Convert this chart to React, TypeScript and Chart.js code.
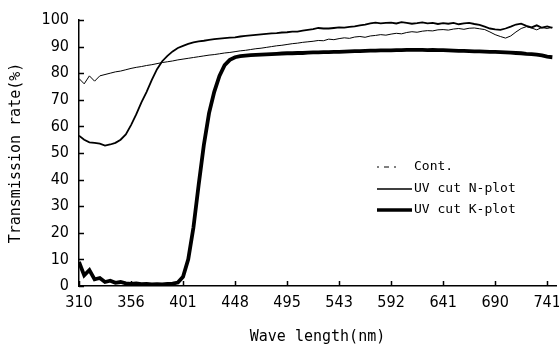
import React, { useEffect, useRef } from "react";
import { Chart, registerables } from "chart.js";

Chart.register(...registerables);

// Tick labels for the wavelength axis (evenly spaced positions 0..9)
const waveTickLabels = ["310", "356", "401", "448", "495", "543", "592", "641", "690", "741"];

// Sample positions along the wavelength axis (in tick-index units)
const samplePositions = [
  0, 0.1, 0.2, 0.3, 0.4, 0.5, 0.6, 0.7, 0.8, 0.9,
  1, 1.1, 1.2, 1.3, 1.4, 1.5, 1.6, 1.7, 1.8, 1.9,
  2, 2.1, 2.2, 2.3, 2.4, 2.5, 2.6, 2.7, 2.8, 2.9,
  3, 3.1, 3.2, 3.3, 3.4, 3.5, 3.6, 3.7, 3.8, 3.9,
  4, 4.1, 4.2, 4.3, 4.4, 4.5, 4.6, 4.7, 4.8, 4.9,
  5, 5.1, 5.2, 5.3, 5.4, 5.5, 5.6, 5.7, 5.8, 5.9,
  6, 6.1, 6.2, 6.3, 6.4, 6.5, 6.6, 6.7, 6.8, 6.9,
  7, 7.1, 7.2, 7.3, 7.4, 7.5, 7.6, 7.7, 7.8, 7.9,
  8, 8.1, 8.2, 8.3, 8.4, 8.5, 8.6, 8.7, 8.8, 8.9,
  9, 9.1,
];

const contValues = [
  78, 76, 79, 77, 79, 79.5, 80, 80.5, 80.8, 81.3,
  81.8, 82.2, 82.5, 82.9, 83.2, 83.6, 84, 84.3, 84.6, 85,
  85.3, 85.6, 85.9, 86.2, 86.5, 86.8, 87, 87.3, 87.6, 87.8,
  88.1, 88.4, 88.6, 88.9, 89.2, 89.4, 89.7, 90, 90.3, 90.5,
  90.8, 91.1, 91.3, 91.6, 91.8, 92, 92.3, 92.2, 92.8, 92.6,
  93, 93.3, 93.1, 93.6, 93.8, 93.5, 94, 94.2, 94.5, 94.3,
  94.7, 95, 94.8, 95.3, 95.6, 95.4, 95.8, 96, 95.9, 96.3,
  96.4, 96.2, 96.6, 96.8, 96.5, 96.9, 97, 96.7, 96.4, 95.5,
  94.5, 93.8, 93.2, 94, 95.5, 96.8, 97.5, 97, 96.3, 97.2,
  96.8, 97.3,
];

const nPlotValues = [
  56.5, 55, 54, 53.8, 53.5, 52.8, 53.2, 53.8, 55, 57,
  60.5, 64.5, 69, 73, 77.5, 81.5, 84.5, 86.5, 88.2, 89.5,
  90.3, 91, 91.6, 92, 92.2, 92.5, 92.8, 93, 93.2, 93.4,
  93.5, 93.8, 94, 94.2, 94.4, 94.6, 94.8, 95, 95.1, 95.3,
  95.4, 95.6, 95.6, 96, 96.3, 96.6, 97, 96.8, 96.8, 97,
  97.2, 97.1, 97.4, 97.6, 98, 98.3, 98.7, 99, 98.7, 98.9,
  99, 98.7, 99.2, 98.9, 98.6, 98.8, 99.1, 98.7, 98.9, 98.5,
  98.8, 98.6, 98.9, 98.4, 98.7, 98.9, 98.5, 98.2, 97.5, 96.8,
  96.5, 96.3, 96.8, 97.5, 98.3, 98.6, 97.8, 97.2, 98, 97.1,
  97.6, 97,
];

const kPlotValues = [
  9, 4, 6, 2.5, 3, 1.5, 2, 1.2, 1.5, 1,
  0.8, 1, 0.7, 0.8, 0.6, 0.7, 0.6, 0.8, 0.9, 1.3,
  3.5, 10, 22, 38, 53, 65, 73, 79, 83, 85,
  86, 86.4, 86.6, 86.8, 86.9, 87, 87.1, 87.2, 87.3, 87.4,
  87.5, 87.5, 87.6, 87.6, 87.7, 87.8, 87.8, 87.9, 87.9, 88,
  88, 88.1, 88.2, 88.3, 88.3, 88.4, 88.5, 88.5, 88.6, 88.6,
  88.6, 88.7, 88.7, 88.8, 88.8, 88.8, 88.8, 88.7, 88.8, 88.7,
  88.7, 88.6, 88.5, 88.4, 88.4, 88.3, 88.2, 88.2, 88.1, 88,
  88, 87.9, 87.8, 87.7, 87.6, 87.5, 87.3, 87.2, 87, 86.7,
  86.2, 86,
];

const yTickValues = [0, 10, 20, 30, 40, 50, 60, 70, 80, 90, 100];

const seriesNames = ["Cont.", "UV cut N-plot", "UV cut K-plot"];

const toPoints = (vals: number[]) => vals.map((v, i) => ({ x: samplePositions[i], y: v }));

const inwardTicksPlugin = {
  id: "inwardTicks",
  afterDraw(chart: any) {
    const ctx = chart.ctx;
    const xs = chart.scales.x;
    const ys = chart.scales.y;
    const area = chart.chartArea;
    ctx.save();
    ctx.strokeStyle = "#000";
    ctx.lineWidth = 1.5;
    ctx.beginPath();
    waveTickLabels.forEach((_, i) => {
      const px = Math.round(xs.getPixelForValue(i)) + 0.5;
      ctx.moveTo(px, area.bottom);
      ctx.lineTo(px, area.bottom - 5);
    });
    yTickValues.forEach((v) => {
      const py = Math.round(ys.getPixelForValue(v)) + 0.5;
      ctx.moveTo(area.left, py);
      ctx.lineTo(area.left + 5, py);
    });
    ctx.stroke();
    ctx.restore();
  },
};

const legendPlugin = {
  id: "customLegend",
  afterDraw(chart: any) {
    const ctx = chart.ctx;
    const items = [
      { label: seriesNames[0], width: 1, dash: [2, 5, 5, 5, 2, 20] },
      { label: seriesNames[1], width: 1.5, dash: [] },
      { label: seriesNames[2], width: 3.5, dash: [] },
    ];
    const x0 = 377;
    const x1 = 412;
    const ys = [167, 189, 210];
    ctx.save();
    items.forEach((it, i) => {
      ctx.beginPath();
      ctx.setLineDash(it.dash);
      ctx.lineWidth = it.width;
      ctx.strokeStyle = "#000";
      ctx.moveTo(x0, ys[i]);
      ctx.lineTo(x1, ys[i]);
      ctx.stroke();
      ctx.setLineDash([]);
      ctx.fillStyle = "#000";
      ctx.font = "13px 'DejaVu Sans Mono', monospace";
      ctx.textBaseline = "middle";
      ctx.textAlign = "left";
      ctx.fillText(it.label, 414, ys[i]);
    });
    ctx.restore();
  },
};

export default function App() {
  const canvasRef = useRef<HTMLCanvasElement | null>(null);

  useEffect(() => {
    if (!canvasRef.current) return;
    const chart = new Chart(canvasRef.current, {
      type: "line",
      data: {
        datasets: [
          {
            label: seriesNames[2],
            data: toPoints(kPlotValues),
            borderColor: "#000",
            borderWidth: 3.8,
            pointRadius: 0,
            tension: 0,
          },
          {
            label: seriesNames[1],
            data: toPoints(nPlotValues),
            borderColor: "#000",
            borderWidth: 1.8,
            pointRadius: 0,
            tension: 0,
          },
          {
            label: seriesNames[0],
            data: toPoints(contValues),
            borderColor: "#000",
            borderWidth: 1,
            pointRadius: 0,
            tension: 0,
          },
        ],
      },
      options: {
        animation: false,
        responsive: true,
        maintainAspectRatio: false,
        layout: { padding: { left: 0, right: 3, top: 20, bottom: 0 } },
        plugins: {
          legend: { display: false },
          tooltip: { enabled: false },
        },
        scales: {
          x: {
            type: "linear",
            min: 0,
            max: 9.17,
            afterBuildTicks: (scale: any) => {
              scale.ticks = waveTickLabels.map((_, i) => ({ value: i }));
            },
            afterFit: (scale: any) => {
              scale.height = 62;
              scale.paddingLeft = 0;
              scale.paddingRight = 0;
            },
            grid: { drawOnChartArea: false, drawTicks: false },
            border: { display: true, color: "#000", width: 1.5 },
            ticks: {
              autoSkip: false,
              maxRotation: 0,
              padding: 7,
              color: "#000",
              font: { family: "'DejaVu Sans Condensed', 'DejaVu Sans', sans-serif", size: 16 },
              callback: (v: any) => waveTickLabels[Math.round(Number(v))] ?? "",
            },
            title: {
              display: true,
              text: "Wave length(nm)",
              color: "#000",
              font: { family: "'DejaVu Sans Mono', monospace", size: 15 },
              padding: { top: 0, bottom: 2 },
            },
          },
          y: {
            type: "linear",
            min: 0,
            max: 100,
            afterBuildTicks: (scale: any) => {
              scale.ticks = yTickValues.map((v) => ({ value: v }));
            },
            afterFit: (scale: any) => {
              scale.width = 79;
              scale.paddingTop = 0;
              scale.paddingBottom = 0;
            },
            grid: { drawOnChartArea: false, drawTicks: false },
            border: { display: true, color: "#000", width: 1.5 },
            ticks: {
              padding: 10,
              color: "#000",
              font: { family: "'DejaVu Sans Condensed', 'DejaVu Sans', sans-serif", size: 16 },
            },
            title: {
              display: true,
              text: "Transmission rate(%)",
              color: "#000",
              font: { family: "'DejaVu Sans Mono', monospace", size: 15 },
              padding: { top: 7, bottom: 0 },
            },
          },
        },
      },
      plugins: [inwardTicksPlugin, legendPlugin],
    });
    return () => chart.destroy();
  }, []);

  return (
    <div style={{ position: "absolute", left: 0, top: 0, width: 559, height: 348, background: "#fff" }}>
      <canvas ref={canvasRef} />
    </div>
  );
}
